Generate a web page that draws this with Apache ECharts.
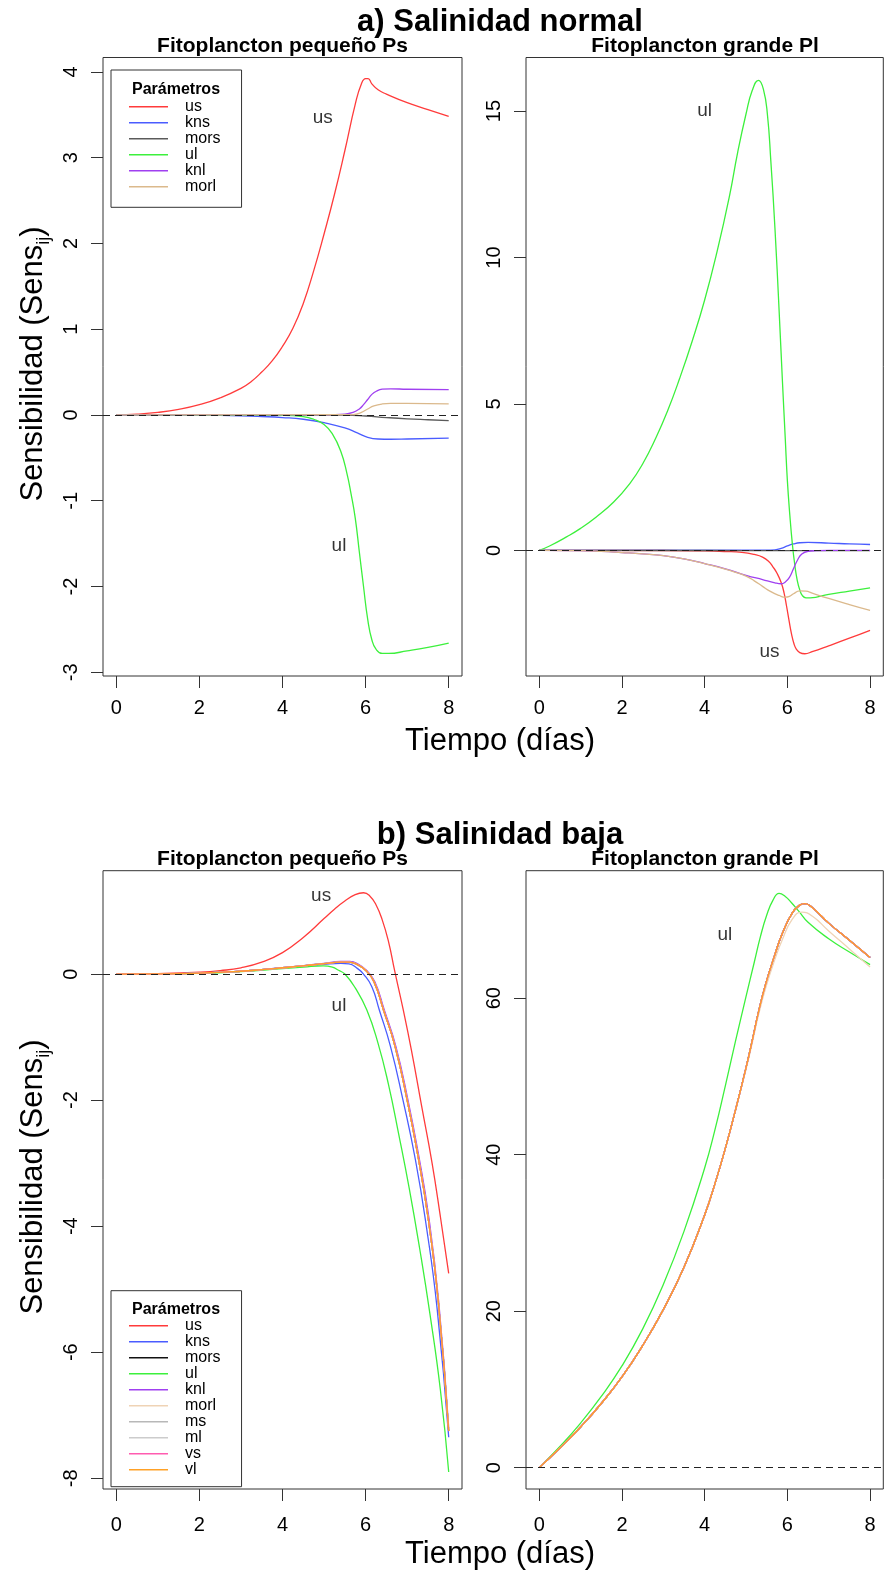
<!DOCTYPE html>
<html>
<head>
<meta charset="utf-8">
<script src="https://cdn.jsdelivr.net/npm/echarts@6/dist/echarts.min.js"></script>
<style>
html,body{margin:0;padding:0;background:#fff;}
#chart{width:885px;height:1574px;}
</style>
</head>
<body>
<div id="chart"></div>
<script>
// ---------- data (x = días, y = sensibilidad) ----------
const X_TICKS = [0, 2, 4, 6, 8];
const AL_TICKS = [-3, -2, -1, 0, 1, 2, 3, 4];
const AR_TICKS = [0, 5, 10, 15];
const BL_TICKS = [-8, -6, -4, -2, 0];
const BR_TICKS = [0, 20, 40, 60];

// a) Salinidad normal — Fitoplancton pequeño Ps
const aL_us = [[0,0],[0.5,0.01],[1,0.03],[1.5,0.065],[2,0.12],[2.5,0.2],[3,0.31],[3.25,0.39],[3.5,0.5],[3.75,0.63],[4,0.8],[4.25,1.01],[4.5,1.3],[4.75,1.68],[5,2.11],[5.25,2.57],[5.5,3.08],[5.75,3.62],[5.9,3.86],[6,3.92],[6.06,3.92],[6.15,3.86],[6.3,3.79],[6.5,3.74],[7,3.64],[7.5,3.56],[8,3.48]];
const aL_kns = [[0,0],[1,0],[2,-0.003],[3,-0.01],[3.5,-0.018],[4,-0.03],[4.5,-0.05],[5,-0.09],[5.5,-0.15],[5.8,-0.21],[6.05,-0.26],[6.3,-0.28],[6.6,-0.283],[7,-0.28],[8,-0.27]];
const aL_mors = [[0,0],[5.5,-0.002],[6,-0.012],[6.5,-0.03],[7,-0.045],[7.5,-0.056],[8,-0.066]];
const aL_ul = [[0,0],[4,-0.005],[4.5,-0.02],[4.75,-0.05],[5,-0.11],[5.2,-0.22],[5.4,-0.42],[5.55,-0.68],[5.65,-0.92],[5.75,-1.2],[5.85,-1.6],[5.95,-2.0],[6.05,-2.38],[6.15,-2.62],[6.25,-2.73],[6.4,-2.78],[6.55,-2.78],[7,-2.75],[7.5,-2.71],[8,-2.66]];
const aL_knl = [[0,0],[5,0.003],[5.5,0.01],[5.7,0.03],[5.85,0.07],[5.95,0.12],[6.05,0.18],[6.15,0.24],[6.27,0.28],[6.4,0.3],[6.6,0.305],[7,0.3],[8,0.295]];
const aL_morl = [[0,0],[5.7,0.005],[5.9,0.03],[6.05,0.07],[6.2,0.105],[6.4,0.128],[6.6,0.135],[7,0.135],[8,0.13]];

// a) Salinidad normal — Fitoplancton grande Pl
const aR_us = [[0,0],[3,-0.005],[4,-0.02],[4.5,-0.04],[4.9,-0.07],[5.2,-0.14],[5.4,-0.23],[5.55,-0.38],[5.65,-0.56],[5.75,-0.78],[5.85,-1.1],[5.92,-1.45],[5.98,-1.9],[6.04,-2.39],[6.1,-2.85],[6.16,-3.19],[6.22,-3.38],[6.3,-3.49],[6.42,-3.53],[6.6,-3.46],[7,-3.26],[7.5,-3.0],[8,-2.73]];
const aR_kns = [[0,0],[5.5,0.005],[5.7,0.02],[5.85,0.07],[6,0.15],[6.15,0.22],[6.3,0.26],[6.5,0.27],[7,0.25],[7.5,0.22],[8,0.2]];
const aR_mors = [[0,0],[4,-0.005],[6,-0.01],[8,-0.01]];
const aR_ul = [[0,0],[0.25,0.15],[0.66,0.46],[1,0.75],[1.38,1.14],[1.8,1.65],[2.19,2.28],[2.5,2.95],[2.83,3.87],[3.1,4.75],[3.39,5.85],[3.7,7.15],[4,8.55],[4.3,10.2],[4.6,12.1],[4.8,13.6],[5.0,14.9],[5.15,15.7],[5.3,16.05],[5.42,15.75],[5.52,14.85],[5.6,13.3],[5.7,11],[5.8,8.2],[5.88,5.8],[5.95,3.8],[6,2.39],[6.06,1.2],[6.12,0.23],[6.18,-0.5],[6.24,-1.03],[6.3,-1.35],[6.36,-1.54],[6.45,-1.62],[6.55,-1.62],[7,-1.5],[7.5,-1.39],[8,-1.28]];
const aR_knl = [[0,0],[1,-0.01],[1.5,-0.035],[2,-0.075],[2.5,-0.12],[3,-0.18],[3.5,-0.29],[4,-0.45],[4.5,-0.63],[5,-0.85],[5.4,-1.0],[5.7,-1.11],[5.85,-1.14],[5.95,-1.08],[6.05,-0.92],[6.15,-0.62],[6.25,-0.32],[6.35,-0.12],[6.5,-0.03],[6.7,-0.01],[7,0],[8,0]];
const aR_morl = [[0,0],[1,-0.01],[1.5,-0.035],[2,-0.075],[2.5,-0.12],[3,-0.18],[3.5,-0.29],[4,-0.45],[4.5,-0.64],[4.75,-0.75],[5,-0.88],[5.2,-1.04],[5.4,-1.23],[5.6,-1.41],[5.8,-1.54],[5.95,-1.6],[6.05,-1.57],[6.15,-1.48],[6.3,-1.38],[6.45,-1.39],[6.6,-1.46],[7,-1.64],[7.5,-1.85],[8,-2.05]];

// b) Salinidad baja — Fitoplancton pequeño Ps
const bL_us = [[0,0],[1,0.008],[2,0.03],[2.5,0.055],[3,0.1],[3.5,0.19],[4,0.34],[4.5,0.58],[5,0.88],[5.25,1.03],[5.5,1.16],[5.75,1.26],[5.95,1.29],[6.1,1.24],[6.25,1.1],[6.4,0.86],[6.55,0.52],[6.7,0.05],[6.9,-0.55],[7.1,-1.2],[7.35,-2.1],[7.6,-3.0],[7.8,-3.85],[8,-4.75]];
const bL_kns = [[0,0],[1,0.003],[2,0.015],[3,0.045],[3.5,0.07],[4,0.1],[4.5,0.125],[5,0.155],[5.4,0.17],[5.6,0.16],[5.8,0.09],[5.95,0],[6.15,-0.2],[6.33,-0.57],[6.6,-1.15],[6.9,-2.0],[7.2,-2.95],[7.45,-3.95],[7.72,-5.3],[8,-7.35]];
const bL_ul = [[0,0],[1,0.003],[2,0.012],[3,0.04],[4,0.085],[4.5,0.11],[4.98,0.13],[5.2,0.11],[5.35,0.06],[5.5,0],[5.75,-0.22],[6.03,-0.57],[6.3,-1.1],[6.55,-1.75],[6.8,-2.55],[7.05,-3.4],[7.3,-4.35],[7.55,-5.4],[7.8,-6.6],[8,-7.9]];
const bL_knl = [[0,0],[1,0.003],[2,0.016],[3,0.047],[3.5,0.072],[4,0.103],[4.5,0.135],[5,0.17],[5.4,0.2],[5.62,0.2],[5.82,0.16],[6.02,0.06],[6.22,-0.12],[6.45,-0.57],[6.73,-1.15],[7.02,-2.0],[7.27,-2.85],[7.52,-3.85],[7.76,-5.2],[8,-7.2]];
const bL_group = [[0,0],[1,0.003],[2,0.015],[3,0.045],[3.5,0.07],[4,0.1],[4.5,0.13],[5,0.165],[5.4,0.19],[5.6,0.19],[5.8,0.15],[6,0.06],[6.2,-0.12],[6.43,-0.57],[6.71,-1.15],[7,-2.0],[7.25,-2.85],[7.5,-3.85],[7.75,-5.2],[8,-7.25]];

// b) Salinidad baja — Fitoplancton grande Pl
const bR_group = [[0,0],[0.5,2.5],[1,5.2],[1.5,8.2],[2,11.6],[2.5,15.6],[3,20.2],[3.5,25.6],[4,32.3],[4.25,36.3],[4.5,40.8],[4.75,45.8],[5,51.1],[5.16,54.8],[5.3,58.2],[5.48,61.9],[5.7,65.6],[5.88,68.3],[6.12,70.9],[6.3,71.9],[6.42,72.1],[6.6,71.6],[7,69.6],[7.5,67.4],[8,65.2]];
const bR_ul = [[0,0],[0.5,2.7],[1,5.7],[1.5,9.1],[2,13.0],[2.5,17.7],[3,23.4],[3.5,30.2],[4,38.3],[4.25,43.2],[4.5,48.8],[4.75,54.6],[5,60.2],[5.2,64.6],[5.35,67.9],[5.5,70.6],[5.65,72.5],[5.8,73.4],[5.95,73],[6.1,72.2],[6.28,71.1],[6.5,69.7],[7,67.6],[7.5,65.9],[8,64.3]];
const bR_morl = [[0,0],[0.5,2.5],[1,5.2],[1.5,8.2],[2,11.6],[2.5,15.6],[3,20.2],[3.5,25.6],[4,32.3],[4.25,36.3],[4.5,40.8],[4.75,45.8],[5,50.9],[5.16,54.5],[5.3,57.8],[5.48,61.4],[5.7,65],[5.88,67.5],[6.12,70.1],[6.35,71],[6.6,70.5],[7,68.6],[7.5,66.3],[8,64]];

// text annotations inside panels [x, y, text]
const aL_notes = [[4.97, 3.47, 'us'], [5.36, -1.52, 'ul']];
const aR_notes = [[4.0, 15.0, 'ul'], [5.57, -3.45, 'us']];
const bL_notes = [[4.93, 1.24, 'us'], [5.36, -0.5, 'ul']];
const bR_notes = [[4.49, 68.1, 'ul']];

// ---------- styles ----------
const FONT = 'Liberation Sans, Arial, Helvetica, sans-serif';
const C = {
  us: '#ff3b3b', kns: '#4a5cff', morsA: '#5a5a5a', morsB: '#111111', ul: '#3cf03c',
  knl: '#a040f0', morlA: '#dbb98c', morlB: '#efd3b5', ms: '#b8b8b8', ml: '#cccccc',
  vs: '#ff5cb0', vl: '#ffa126'
};

const grids = [
  {left: 103, top: 57.5, width: 359, height: 618.5},
  {left: 526, top: 57.5, width: 357.3, height: 618.5},
  {left: 103, top: 870.7, width: 359, height: 618.3},
  {left: 526, top: 870.7, width: 357.3, height: 618.3}
].map(g => Object.assign({show: true, borderColor: '#333', borderWidth: 1, backgroundColor: 'transparent'}, g));

const yRanges = [[-3.043, 4.167, AL_TICKS], [-4.29, 16.83, AR_TICKS], [-8.17, 1.64, BL_TICKS], [-2.73, 76.3, BR_TICKS]];
const xLabelMargin = [22, 22, 26, 26];

const xAxes = grids.map((g, i) => ({
  type: 'value', gridIndex: i, min: -0.32, max: 8.32,
  axisLine: {show: false, onZero: false},
  axisTick: {show: true, length: 12, lineStyle: {color: '#333', width: 1}, customValues: X_TICKS},
  axisLabel: {show: true, customValues: X_TICKS, fontSize: 20, color: '#000', fontFamily: FONT, margin: xLabelMargin[i]},
  splitLine: {show: false}
}));
const yAxes = yRanges.map((r, i) => ({
  type: 'value', gridIndex: i, min: r[0], max: r[1],
  axisLine: {show: false, onZero: false},
  axisTick: {show: true, length: 12, lineStyle: {color: '#333', width: 1}, customValues: r[2]},
  axisLabel: {show: true, customValues: r[2], rotate: 90, fontSize: 20, color: '#000', fontFamily: FONT, margin: 22},
  splitLine: {show: false}
}));

function line(name, data, color, gi) {
  return {
    type: 'line', name: name, data: data, xAxisIndex: gi, yAxisIndex: gi,
    symbol: 'none', showSymbol: false, smooth: 0.5, silent: true,
    lineStyle: {color: color, width: 1.3}, itemStyle: {color: color}
  };
}
function notes(data, gi) {
  return {
    type: 'scatter', name: 'notes' + gi, data: data, xAxisIndex: gi, yAxisIndex: gi,
    symbolSize: 1, silent: true, itemStyle: {color: 'rgba(0,0,0,0)'}, z: 5,
    label: {show: true, position: 'inside', formatter: p => p.data[2], fontSize: 19, color: '#000', fontFamily: FONT},
    markLine: {
      silent: true, symbol: 'none', label: {show: false},
      lineStyle: {type: [7, 5], color: '#222', width: 1.2},
      data: [{yAxis: 0}]
    }
  };
}

const series = [
  line('us', aL_us, C.us, 0), line('kns', aL_kns, C.kns, 0), line('mors', aL_mors, C.morsA, 0),
  line('ul', aL_ul, C.ul, 0), line('knl', aL_knl, C.knl, 0), line('morl', aL_morl, C.morlA, 0),
  notes(aL_notes, 0),

  line('us', aR_us, C.us, 1), line('kns', aR_kns, C.kns, 1), line('mors', aR_mors, C.morsA, 1),
  line('ul', aR_ul, C.ul, 1), line('knl', aR_knl, C.knl, 1), line('morl', aR_morl, C.morlA, 1),
  notes(aR_notes, 1),

  line('us', bL_us, C.us, 2), line('kns', bL_kns, C.kns, 2), line('mors', bL_group, C.morsB, 2),
  line('ul', bL_ul, C.ul, 2), line('knl', bL_knl, C.knl, 2), line('morl', bL_group, C.morlB, 2),
  line('ms', bL_group, C.ms, 2), line('ml', bL_group, C.ml, 2), line('vs', bL_group, C.vs, 2),
  line('vl', bL_group, C.vl, 2),
  notes(bL_notes, 2),

  line('us', bR_group, C.us, 3), line('kns', bR_group, C.kns, 3), line('mors', bR_group, C.morsB, 3),
  line('ul', bR_ul, C.ul, 3), line('knl', bR_group, C.knl, 3), line('morl', bR_morl, C.morlB, 3),
  line('ms', bR_group, C.ms, 3), line('ml', bR_group, C.ml, 3), line('vs', bR_group, C.vs, 3),
  line('vl', bR_group, C.vl, 3),
  notes(bR_notes, 3)
];

function legendItem(name, color) {
  return {name: name, icon: 'rect', itemStyle: {color: color, borderWidth: 0}};
}
const legendBase = {
  orient: 'vertical', itemWidth: 39, itemHeight: 1.6, itemGap: 0,
  borderColor: '#333', borderWidth: 1, backgroundColor: '#fff',
  selectedMode: false,
  textStyle: {fontSize: 16, lineHeight: 14.5, color: '#000', fontFamily: FONT, padding: [0, 0, 0, 12]}
};
const legends = [
  Object.assign({}, legendBase, {
    left: 111, top: 70, padding: [28.8, 21, 12.5, 18],
    data: [legendItem('us', C.us), legendItem('kns', C.kns), legendItem('mors', C.morsA),
           legendItem('ul', C.ul), legendItem('knl', C.knl), legendItem('morl', C.morlA)]
  }),
  Object.assign({}, legendBase, {
    left: 111, top: 1290.7, padding: [27, 21, 9, 18],
    data: [legendItem('us', C.us), legendItem('kns', C.kns), legendItem('mors', C.morsB),
           legendItem('ul', C.ul), legendItem('knl', C.knl), legendItem('morl', C.morlB),
           legendItem('ms', C.ms), legendItem('ml', C.ml), legendItem('vs', C.vs), legendItem('vl', C.vl)]
  })
];

function txt(text, x, y, size, bold, rot) {
  return {
    type: 'text', x: x, y: y, rotation: rot || 0, silent: true, z: 100,
    style: {text: text, fontSize: size, fontWeight: bold ? 'bold' : 'normal', fontFamily: FONT,
            fill: '#000', align: 'center', verticalAlign: 'middle'}
  };
}
function ylab(x, y) {
  return {
    type: 'text', x: x, y: y, rotation: Math.PI / 2, silent: true, z: 100,
    style: {
      text: '{a|Sensibilidad (Sens}{s|ij}{a|)}', align: 'center', verticalAlign: 'middle', fill: '#000',
      rich: {
        a: {fontSize: 31, fontFamily: FONT, lineHeight: 40, fill: '#000'},
        s: {fontSize: 18, fontFamily: FONT, lineHeight: 18, verticalAlign: 'bottom', fill: '#000'}
      }
    }
  };
}

const graphics = [
  txt('a) Salinidad normal', 500, 22, 31, true),
  txt('Fitoplancton pequeño Ps', 282.5, 46, 21, true),
  txt('Fitoplancton grande Pl', 705, 46, 21, true),
  txt('Tiempo (días)', 500, 741, 31, false),
  ylab(33, 364),
  txt('b) Salinidad baja', 500, 835.5, 31, true),
  txt('Fitoplancton pequeño Ps', 282.5, 859.5, 21, true),
  txt('Fitoplancton grande Pl', 705, 859.5, 21, true),
  txt('Tiempo (días)', 500, 1554.5, 31, false),
  ylab(33, 1177),
  txt('Parámetros', 176, 90, 16, true),
  txt('Parámetros', 176, 1310, 16, true)
];

const chart = echarts.init(document.getElementById('chart'), null, {renderer: 'canvas'});
chart.setOption({
  animation: false,
  backgroundColor: '#fff',
  textStyle: {fontFamily: FONT},
  grid: grids,
  xAxis: xAxes,
  yAxis: yAxes,
  legend: legends,
  series: series,
  graphic: graphics
});
</script>
</body>
</html>
